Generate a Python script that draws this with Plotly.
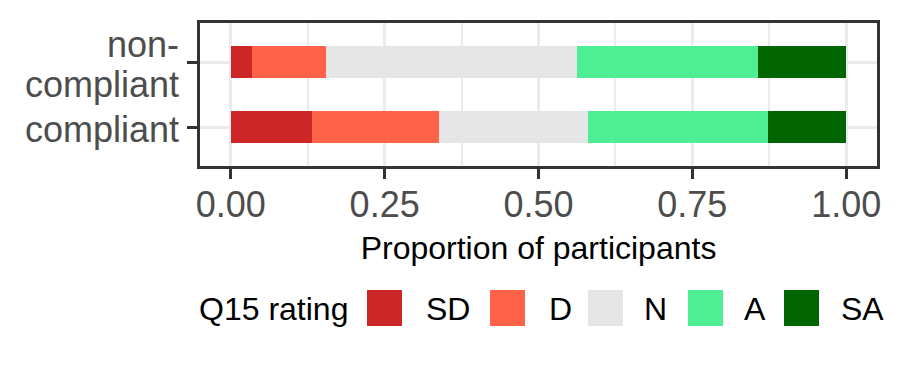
import plotly.graph_objects as go

# Data
groups = ["compliant", "non-compliant"]
group_label_lines = [["compliant"], ["non-", "compliant"]]
ratings = ["SD", "D", "N", "A", "SA"]
colours = ["#CD2626", "#FF6347", "#E5E5E5", "#4EEE94", "#006400"]

# proportion of participants per rating (compliant, non-compliant)
sd = [0.132, 0.034]
d = [0.206, 0.120]
n = [0.242, 0.409]
a = [0.293, 0.294]
sa = [0.127, 0.143]
values = [sd, d, n, a, sa]

x_ticks = [0, 0.25, 0.5, 0.75, 1]
x_tick_labels = ["0.00", "0.25", "0.50", "0.75", "1.00"]

FONT = "Liberation Sans, Arial, sans-serif"
GRID = "#EBEBEB"
DARK = "#333333"

fig = go.Figure()
for rating, col, vals in zip(ratings, colours, values):
    fig.add_trace(go.Bar(y=groups, x=vals, name=rating, orientation="h",
                         marker=dict(color=col, line=dict(width=0)),
                         width=0.5, showlegend=False))

# panel spans roughly x 200..877 px and y 23..166 px in the reference
L, R, T, B = 200, 877, 23, 166
OFF = 8  # the page body adds an 8px margin, so pull the figure back by that


def px(x):
    return (x - L) / (R - L)


def py(y):
    return (B - y) / (B - T)


annotations = []

# y labels as text so the two-line label gets ggplot's tighter line spacing
LINE_GAP = 40
for g, lines in zip(groups, group_label_lines):
    k = len(lines)
    for i, line in enumerate(lines):
        shift = ((k - 1) / 2 - i) * LINE_GAP
        annotations.append(dict(x=0, y=g, xref="paper", yref="y", text=line,
                                showarrow=False, xanchor="right", yanchor="middle",
                                xshift=-19, yshift=shift - 2,
                                font=dict(size=36, color="#4D4D4D", family=FONT)))

# hand-built legend (ggplot style square keys)
shapes = []
annotations.append(dict(x=px(197), y=py(309), xref="paper", yref="paper",
                        text="Q15 rating", showarrow=False, xanchor="left",
                        yanchor="middle", font=dict(size=32, color="black", family=FONT)))
key_left = [367, 490, 588, 688, 784]
label_left = [424, 547, 642, 742, 839]
for rating, col, kx, lx in zip(ratings, colours, key_left, label_left):
    shapes.append(dict(type="rect", xref="paper", yref="paper",
                       x0=px(kx), x1=px(kx + 35), y0=py(326), y1=py(290),
                       fillcolor=col, line=dict(width=0)))
    annotations.append(dict(x=px(lx), y=py(309), xref="paper", yref="paper",
                            text=rating, showarrow=False, xanchor="left",
                            yanchor="middle",
                            font=dict(size=32, color="black", family=FONT)))

fig.update_layout(
    barmode="stack",
    width=900, height=375,
    margin=dict(l=L - OFF, r=900 - R + OFF, t=T - OFF, b=375 - B + OFF, pad=0),
    plot_bgcolor="white", paper_bgcolor="white",
    font=dict(family=FONT),
    shapes=shapes, annotations=annotations,
    xaxis=dict(range=[-0.05, 1.05], tickvals=x_ticks, ticktext=x_tick_labels,
               automargin=False,
               showgrid=True, gridcolor=GRID, gridwidth=3,
               minor=dict(tickvals=[0.125, 0.375, 0.625, 0.875], showgrid=True,
                          gridcolor=GRID, gridwidth=1.8, ticks=""),
               ticks="outside", ticklen=10, tickwidth=3, tickcolor=DARK,
               showline=True, mirror=True, linecolor=DARK, linewidth=2.5,
               zeroline=False, ticklabelstandoff=-5,
               tickfont=dict(size=36, color="#4D4D4D", family=FONT),
               title=dict(text="Proportion of participants", standoff=13,
                          font=dict(size=32, color="black", family=FONT))),
    yaxis=dict(type="category", categoryorder="array", categoryarray=groups,
               range=[-0.6, 1.6], tickvals=groups, showticklabels=False,
               automargin=False,
               showgrid=True, gridcolor=GRID, gridwidth=3,
               ticks="outside", ticklen=10, tickwidth=3, tickcolor=DARK,
               showline=True, mirror=True, linecolor=DARK, linewidth=2.5,
               zeroline=False),
)

fig.write_html("out.html")
